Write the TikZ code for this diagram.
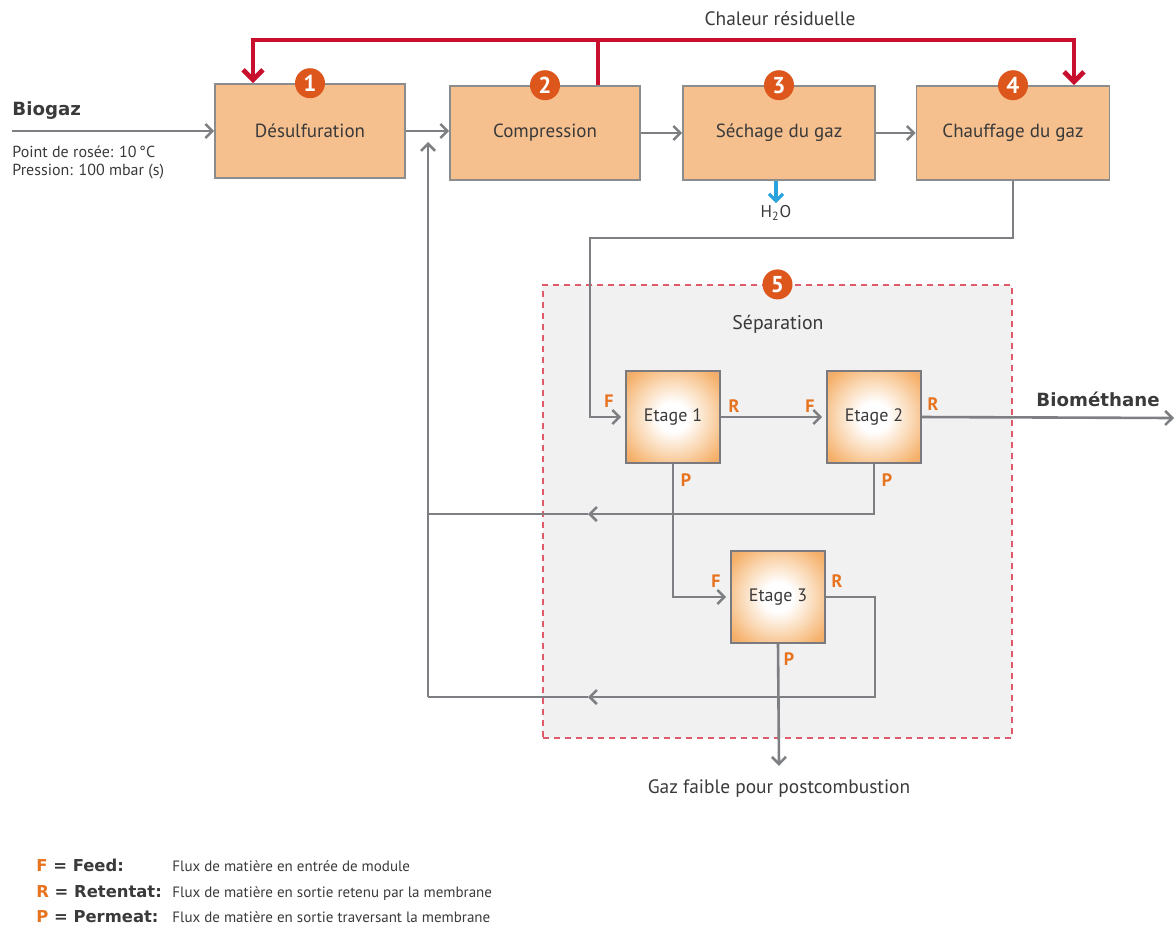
\documentclass[tikz,border=0pt]{standalone}
\usepackage{fontspec}
\setmainfont{PT Sans}
\newfontfamily\heavyfont{DejaVu Sans}
\usetikzlibrary{arrows.meta,calc}
\definecolor{peach}{HTML}{F6BF8E}
\definecolor{procedge}{HTML}{8C8C8C}
\definecolor{redline}{HTML}{C8102E}
\definecolor{badge}{HTML}{DD561C}
\definecolor{lblc}{HTML}{E8731E}
\definecolor{flowc}{HTML}{7E7F83}
\definecolor{txt}{HTML}{3A3A3A}
\definecolor{sepfill}{HTML}{F1F1F2}
\definecolor{sepedge}{HTML}{E05A6A}
\definecolor{etgray}{HTML}{B1B1B6}
\definecolor{etedge}{HTML}{7A7A7E}
\definecolor{gloworange}{HTML}{F5AE66}
\definecolor{glowmid}{HTML}{FAD8B4}
\definecolor{bluec}{HTML}{2AA3DC}
\pgfdeclareradialshading{glow}{\pgfpoint{0bp}{0bp}}{%
  color(0bp)=(white); color(8bp)=(white); color(20bp)=(glowmid);
  color(32bp)=(gloworange); color(41bp)=(etgray); color(50bp)=(etgray)}
\begin{document}
\begin{tikzpicture}[x=0.5pt,y=-0.5pt,
  every node/.style={text=txt},
  proc/.style={draw=procedge, line width=0.8pt, fill=peach, minimum width=95pt,
    minimum height=47pt, inner sep=0pt, font=\fontsize{9.5}{11}\selectfont},
  badgenode/.style={circle, fill=badge, text=white, inner sep=0pt, minimum size=15pt,
    font=\bfseries\fontsize{11.5}{11.5}\selectfont},
  flowtip/.style={-{Straight Barb[length=3.5pt,width=7pt]}},
  flow/.style={draw=flowc, line width=1.3pt},
  heat/.style={draw=redline, line width=2.4pt},
  heattip/.style={-{Straight Barb[length=5pt,width=10pt]}},
  etage/.style={draw=etedge, line width=0.8pt, shading=glow, minimum width=47pt,
    minimum height=46pt, inner sep=0pt, font=\fontsize{9}{10}\selectfont},
  lbl/.style={text=lblc, font=\bfseries\fontsize{9}{9}\selectfont, inner sep=0pt},
  plain/.style={font=\fontsize{9.7}{11}\selectfont, inner sep=0pt},
  heavy/.style={font=\heavyfont\bfseries\fontsize{9.1}{10}\selectfont, inner sep=0pt},
  legkey/.style={font=\heavyfont\bfseries\fontsize{8.2}{9}\selectfont, inner sep=0pt, anchor=base west},
  legtxt/.style={font=\fontsize{7.5}{9}\selectfont, inner sep=0pt, anchor=base west},
]
\useasboundingbox (0,0) rectangle (1176,943);

% separation area
\node[draw=sepedge, fill=sepfill, dashed, dash pattern=on 3pt off 2.5pt, line width=0.6pt,
  minimum width=234.5pt, minimum height=226.5pt, inner sep=0pt] (sep) at (777.5,511.5) {};
\node[badgenode] (n5) at (sep.north) {5};
\node[font=\fontsize{9.9}{11}\selectfont, inner sep=0pt] (seplab) at (778,324) {Séparation};

% process boxes
\node[proc] (b1) at (310,131) {Désulfuration};
\node[proc] (b2) at (545,133) {Compression};
\node[proc, minimum width=96pt] (b3) at (779,133) {Séchage du gaz};
\node[proc, minimum width=96.5pt] (b4) at (1013,133) {Chauffage du gaz};

% heat lines
\coordinate (hL) at (253,40);
\coordinate (hM) at (598,40);
\coordinate (hR) at (1074,40);
\draw[heat, heattip] (hM) -| (b1.north -| hL);
\draw[heat, heattip] (hM) -| (b4.north -| hR);
\draw[heat] (hM) -- (b2.north -| hM);
\node[plain] (chal) at (780,19) {Chaleur résiduelle};

% badges
\node[badgenode] (n1) at (b1.north) {1};
\node[badgenode] (n2) at (b2.north) {2};
\node[badgenode] (n3) at (b3.north) {3};
\node[badgenode] (n4) at (b4.north) {4};

% inlet
\coordinate (bin) at (12,131);
\node[heavy, anchor=west] (biogaz) at (12,111) {Biogaz};
\node[font=\fontsize{8}{8.6}\selectfont, anchor=north west, align=left, inner sep=0pt] (cond) at (12,146)
  {Point de rosée: 10\,°C\\Pression: 100 mbar (s)};
\draw[flow, flowtip] (bin) -- (b1.west);

% main chain
\draw[flow, flowtip] (b1.east) -- (b2.west |- b1.east);
\draw[flow, flowtip] (b2.east) -- (b3.west);
\draw[flow, flowtip] (b3.east) -- (b4.west);

% water
\node[font=\fontsize{8.5}{9}\selectfont, inner sep=0pt] (h2o) at (776,213) {H\textsubscript{2}O};
\draw[draw=bluec, line width=1.6pt, -{Straight Barb[length=3.5pt,width=7pt]}] (b3.south -| h2o) -- ([yshift=1pt]h2o.north);

% stages
\node[etage] (e1) at (673,417) {Etage 1};
\node[etage] (e2) at (874,417) {Etage 2};
\node[etage] (e3) at (778,597) {Etage 3};

% feed to stage 1
\coordinate (k1) at (590,238);
\draw[flow, flowtip] (b4.south) |- (k1) |- ([xshift=-2pt]e1.west);

% stage1 -> stage2
\draw[flow, flowtip] (e1.east) -- ([xshift=-2pt]e2.west);

% product
\coordinate (bio) at (1174,418);
\draw[flow, flowtip] (e2.east) -- (bio);
\node[heavy] (biolab) at (1098,399) {Biométhane};

% stage1 permeate -> stage3
\draw[flow, flowtip] (e1.south) |- ([xshift=-2pt]e3.west);

% stage2 permeate recycle
\coordinate (m1) at (588,514);
\coordinate (r1) at (428,514);
\draw[flow, flowtip] (e2.south) |- (m1);
\draw[flow] (m1) -- (r1);

% stage3 retentate recycle
\coordinate (c3) at (875,697);
\coordinate (m2) at (588,697);
\coordinate (r2) at (428,697);
\coordinate (mix) at (428,142);
\draw[flow, flowtip] (e3.east) -| (c3) -- (m2);
\draw[flow] (m2) -- (r2);
\draw[flow, flowtip] (r2) -- (mix);

% stage3 permeate
\node[plain] (gaz) at (779,789) {Gaz faible pour postcombustion};
\draw[flow, flowtip] (e3.south) -- ([yshift=7pt]gaz.north);

% F/R/P labels
\node[lbl] (f1) at (609,401) {F};
\node[lbl] (r1l) at (734,406) {R};
\node[lbl] (f2) at (810,406) {F};
\node[lbl] (r2l) at (933,404) {R};
\node[lbl] (p1) at (686,480) {P};
\node[lbl] (p2) at (887,480) {P};
\node[lbl] (f3) at (716,581) {F};
\node[lbl] (r3l) at (837,581) {R};
\node[lbl] (p3) at (789,659) {P};

% legend
\node[legkey] (kf) at (36,871) {\textcolor{lblc}{F} = Feed:};
\node[legkey] (kr) at (36,897) {\textcolor{lblc}{R} = Retentat:};
\node[legkey] (kp) at (36,922) {\textcolor{lblc}{P} = Permeat:};
\node[legtxt] (tf) at (172,871) {Flux de matière en entrée de module};
\node[legtxt] (tr) at (172,897) {Flux de matière en sortie retenu par la membrane};
\node[legtxt] (tp) at (172,922) {Flux de matière en sortie traversant la membrane};
\end{tikzpicture}
\end{document}
